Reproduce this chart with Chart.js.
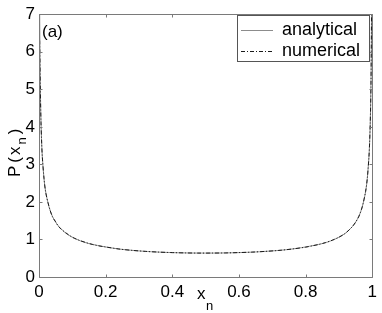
<!DOCTYPE html>
<html>
<head>
<meta charset="utf-8">
<script src="https://cdn.jsdelivr.net/npm/chart.js@4.4.0/dist/chart.umd.min.js"></script>
<style>
html,body{margin:0;padding:0;background:#fff;}
#wrap{width:382px;height:313px;position:relative;}
</style>
</head>
<body>
<div id="wrap"><canvas id="c" width="382" height="313"></canvas></div>
<script>
// ---- data ----
const anaX = [0.002,0.003,0.005,0.0075,0.01,0.015,0.02,0.03,0.04,0.05,0.06,0.08,0.1,0.125,0.15,0.2,0.25,0.3,0.35,0.4,0.45,0.5,0.55,0.6,0.65,0.7,0.75,0.8,0.85,0.875,0.9,0.92,0.94,0.95,0.96,0.97,0.98,0.985,0.99,0.9925,0.995,0.997,0.998];
const anaY = [7.12,5.82,4.51,3.69,3.20,2.62,2.27,1.87,1.62,1.46,1.34,1.17,1.06,0.96,0.89,0.80,0.735,0.695,0.667,0.650,0.640,0.637,0.640,0.650,0.667,0.695,0.735,0.80,0.89,0.96,1.06,1.17,1.34,1.46,1.62,1.87,2.27,2.62,3.20,3.69,4.51,5.82,7.12];
const numX = [0.002,0.004,0.006,0.008,0.01,0.015,0.02,0.03,0.04,0.05,0.06,0.08,0.1,0.12,0.14,0.16,0.18,0.2,0.24,0.28,0.32,0.36,0.4,0.44,0.48,0.52,0.56,0.6,0.64,0.68,0.72,0.76,0.8,0.82,0.84,0.86,0.88,0.9,0.92,0.94,0.95,0.96,0.97,0.98,0.985,0.99,0.992,0.994,0.996,0.998];
const numY = [6.3,5.0,4.12,3.57,3.19,2.63,2.26,1.88,1.61,1.47,1.33,1.18,1.06,0.98,0.92,0.868,0.829,0.80,0.745,0.709,0.682,0.663,0.65,0.641,0.637,0.638,0.641,0.651,0.663,0.683,0.708,0.746,0.795,0.83,0.868,0.917,0.98,1.06,1.17,1.34,1.46,1.62,1.87,2.28,2.62,3.2,3.57,4.12,5.05,7.3];
const xTicks = [0,0.2,0.4,0.6,0.8,1];
const yTicks = [0,1,2,3,4,5,6,7];
const seriesNames = ["analytical","numerical"];
const panelLabel = "(a)";

const FONT = "Liberation Sans, Arial, sans-serif";
const AXC = "#7a7a7a";

const decor = {
  id:'decor',
  afterDraw(chart){
    const ctx = chart.ctx, a = chart.chartArea;
    const xs = chart.scales.x, ys = chart.scales.y;
    ctx.save();
    ctx.strokeStyle = AXC; ctx.lineWidth = 1;
    const L = Math.round(a.left)+0.5, R = Math.round(a.right)+0.5, T = Math.round(a.top)+0.5, B = Math.round(a.bottom)+0.5;
    ctx.beginPath();
    ctx.moveTo(L,B); ctx.lineTo(L,T); ctx.lineTo(R,T); ctx.lineTo(R,B); ctx.lineTo(L,B);
    xTicks.forEach(v=>{const p=Math.round(xs.getPixelForValue(v))+0.5; ctx.moveTo(p,B); ctx.lineTo(p,B-3); ctx.moveTo(p,T); ctx.lineTo(p,T+3);});
    yTicks.forEach(v=>{const p=Math.round(ys.getPixelForValue(v))+0.5; ctx.moveTo(L,p); ctx.lineTo(L+3,p); ctx.moveTo(R,p); ctx.lineTo(R-3,p);});
    ctx.stroke();
    // panel label
    ctx.fillStyle = "#000";
    ctx.font = "17px "+FONT;
    ctx.textBaseline = "alphabetic"; ctx.textAlign = "left";
    ctx.fillText(panelLabel, a.left+3, a.top+23);
    // x title
    ctx.font = "17px "+FONT;
    ctx.fillText("x", 197, 299);
    ctx.font = "13px "+FONT;
    ctx.fillText("n", 206, 310);
    // y title rotated, spaced like the reference
    ctx.save();
    ctx.translate(20, 177);
    ctx.rotate(-Math.PI/2);
    const parts = [["P",17,0,0],["(",17,0,3],["x",17,0,2],["n",13,6,2],[")",17,0,3]];
    let px = 0;
    parts.forEach(([t,sz,dy,gap])=>{
      px += gap;
      ctx.font = sz+"px "+FONT;
      ctx.fillText(t, px, dy);
      px += ctx.measureText(t).width;
    });
    ctx.restore();
    // legend
    const lx = 237, ly = 15, lw = 132, lh = 46;
    ctx.fillStyle = "#fff";
    ctx.fillRect(lx, ly, lw, lh);
    ctx.strokeStyle = "#555";
    ctx.strokeRect(lx+0.5, ly+0.5, lw, lh);
    const ds = chart.data.datasets;
    const rows = [30, 51];
    ds.forEach((d,i)=>{
      ctx.strokeStyle = d.borderColor; ctx.lineWidth = 1;
      ctx.setLineDash(d.borderDash || []);
      ctx.beginPath(); ctx.moveTo(241, rows[i]+0.5); ctx.lineTo(273, rows[i]+0.5); ctx.stroke();
      ctx.setLineDash([]);
      ctx.fillStyle = "#000"; ctx.font = "18px "+FONT; ctx.textBaseline = "middle";
      ctx.fillText(d.label, 282, rows[i]);
    });
    ctx.restore();
  }
};

new Chart(document.getElementById('c'), {
  type:'line',
  data:{
    datasets:[
      {label:seriesNames[0], order:1, data:anaX.map((x,i)=>({x:x,y:anaY[i]})), borderColor:'#8c8c8c', borderWidth:1, pointRadius:0, tension:0.3, fill:false},
      {label:seriesNames[1], order:0, data:numX.map((x,i)=>({x:x,y:numY[i]})), borderColor:'#1a1a1a', borderWidth:1, borderDash:[4,2,1,2], pointRadius:0, tension:0.3, fill:false}
    ]
  },
  options:{
    responsive:false, animation:false,
    layout:{padding:{left:0,right:9,top:13,bottom:0}},
    plugins:{legend:{display:false}, tooltip:{enabled:false}},
    scales:{
      x:{type:'linear', min:0, max:1,
        afterBuildTicks(s){s.ticks = xTicks.map(v=>({value:v}));},
        afterFit(s){s.height = 36;},
        grid:{display:false, drawTicks:false},
        border:{display:false},
        ticks:{color:'#000', padding:5, maxRotation:0, font:{family:FONT, size:17}, callback:(v)=>String(v)}
      },
      y:{type:'linear', min:0, max:7,
        afterBuildTicks(s){s.ticks = yTicks.map(v=>({value:v}));},
        afterFit(s){s.width = 39;},
        grid:{display:false, drawTicks:false},
        border:{display:false},
        ticks:{color:'#000', padding:4, font:{family:FONT, size:17}, callback:(v)=>String(v)}
      }
    }
  },
  plugins:[decor]
});
</script>
</body>
</html>
